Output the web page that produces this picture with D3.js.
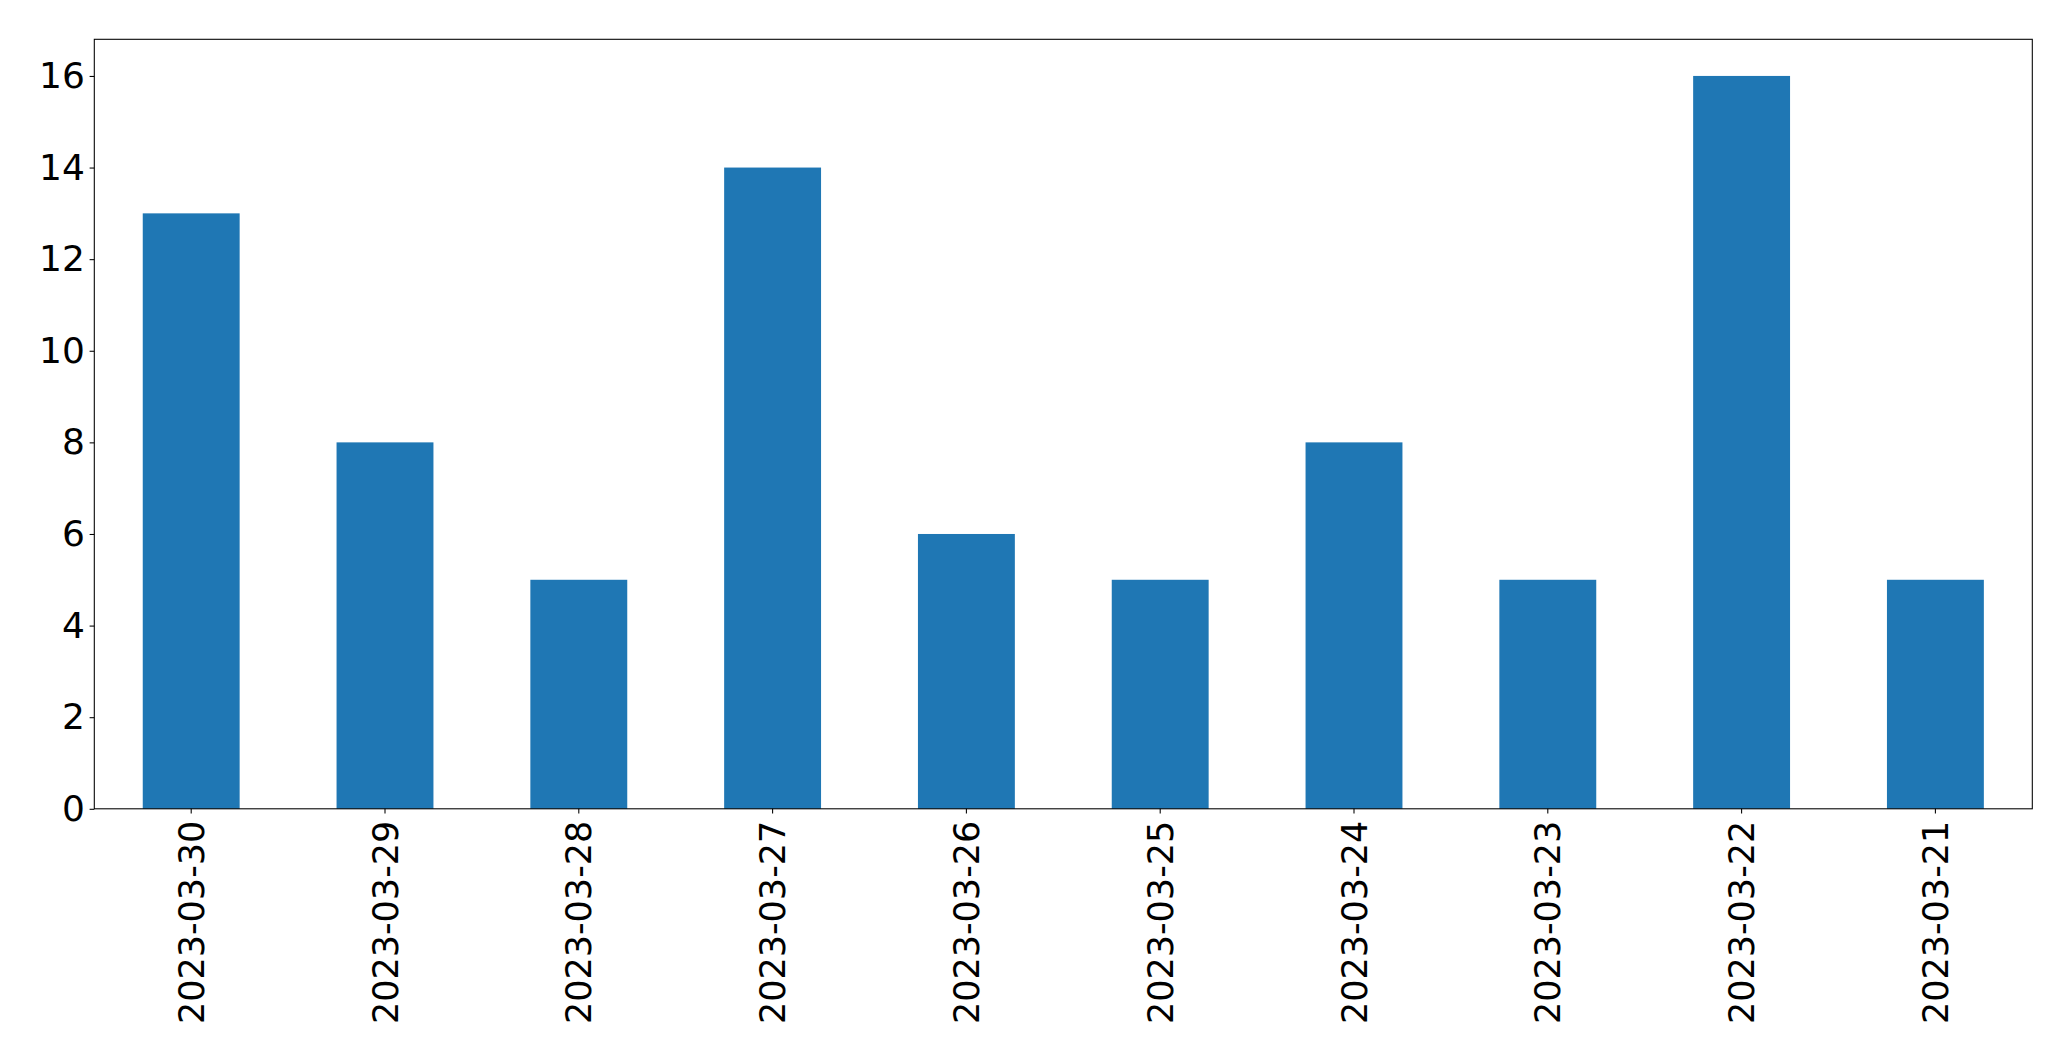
<!DOCTYPE html>
<html>
<head>
<meta charset="utf-8">
<script src="https://cdn.jsdelivr.net/npm/d3@7"></script>
<style>
  html, body { margin: 0; padding: 0; background: #fff; }
  svg { display: block; }
  text { font-family: "DejaVu Sans", sans-serif; }
</style>
</head>
<body>
<svg id="chart" width="2071" height="1061"></svg>
<script>
const categories = ["2023-03-30","2023-03-29","2023-03-28","2023-03-27","2023-03-26","2023-03-25","2023-03-24","2023-03-23","2023-03-22","2023-03-21"];
const values = [13, 8, 5, 14, 6, 5, 8, 5, 16, 5];
const yTicks = [0, 2, 4, 6, 8, 10, 12, 14, 16];

const W = 2071, H = 1061;
const margin = {left: 94.3, right: W - 2032.3, top: 39.3, bottom: H - 808.8};
const innerW = W - margin.left - margin.right;
const innerH = H - margin.top - margin.bottom;
const fontSize = 35;
const yFontSize = 36;
const tickLen = 4.7;
const tickPad = 4.7;

const svg = d3.select("#chart");
const g = svg.append("g").attr("transform", `translate(${margin.left},${margin.top})`);

const x = d3.scaleBand().domain(categories).range([0, innerW]).paddingInner(0.5).paddingOuter(0.25);
const y = d3.scaleLinear().domain([0, 16.8]).range([innerH, 0]);

g.selectAll("rect.bar").data(values).enter().append("rect")
  .attr("class", "bar")
  .attr("x", (d, i) => x(categories[i]))
  .attr("width", x.bandwidth())
  .attr("y", d => y(d))
  .attr("height", d => y(0) - y(d))
  .attr("fill", "#1f77b4");

// y axis
const yAxis = g.append("g").call(d3.axisLeft(y).tickValues(yTicks).tickSize(tickLen).tickPadding(tickPad).tickFormat(d3.format("d")));
yAxis.select(".domain").remove();
yAxis.selectAll("line").attr("stroke", "#000").attr("stroke-width", 1.07);
yAxis.selectAll("text").attr("font-size", yFontSize).attr("fill", "#000").attr("font-family", "DejaVu Sans");

// x axis
const xAxis = g.append("g").attr("transform", `translate(0,${innerH})`)
  .call(d3.axisBottom(x).tickSize(tickLen).tickPadding(tickPad));
xAxis.select(".domain").remove();
xAxis.selectAll("line").attr("stroke", "#000").attr("stroke-width", 1.07);
xAxis.selectAll("text")
  .attr("font-size", fontSize).attr("fill", "#000").attr("font-family", "DejaVu Sans")
  .attr("transform", "rotate(-90)")
  .attr("x", -(tickLen + tickPad + 2.5))
  .attr("y", 0)
  .attr("dy", "0.36em")
  .attr("text-anchor", "end");

// frame
g.append("rect").attr("x", 0).attr("y", 0).attr("width", innerW).attr("height", innerH)
  .attr("fill", "none").attr("stroke", "#000").attr("stroke-width", 1.07);
</script>
</body>
</html>
